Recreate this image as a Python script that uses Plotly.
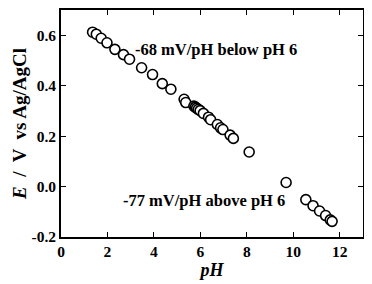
import plotly.graph_objects as go

ph = [1.36, 1.52, 1.73, 1.98, 2.32, 2.69, 2.95, 3.47, 3.94, 4.36, 4.73, 5.30, 5.37,
      5.72, 5.78, 5.84, 5.91, 5.99, 6.13, 6.35, 6.44, 6.73, 6.87, 6.97, 7.28, 7.42,
      8.10, 9.69, 10.54, 10.85, 11.13, 11.39, 11.59, 11.67]
E = [0.612, 0.604, 0.588, 0.570, 0.544, 0.523, 0.505, 0.471, 0.444, 0.408, 0.386, 0.346, 0.333,
     0.319, 0.315, 0.311, 0.306, 0.301, 0.290, 0.275, 0.265, 0.246, 0.233, 0.226, 0.204, 0.191,
     0.137, 0.016, -0.052, -0.076, -0.097, -0.115, -0.132, -0.138]
x_ticks = [0, 2, 4, 6, 8, 10, 12]
y_ticks = [-0.2, 0.0, 0.2, 0.4, 0.6]
y_tick_labels = ["-0.2", "0.0", "0.2", "0.4", "0.6"]

font = "Liberation Serif"

fig = go.Figure(go.Scatter(
    x=ph, y=E, mode="markers",
    marker=dict(symbol="circle", size=10, color="white", line=dict(color="black", width=1.6)),
))

axis_common = dict(
    showline=True, linecolor="black", linewidth=1.6, mirror="ticks",
    ticks="inside", ticklen=5, tickwidth=1, tickcolor="black",
    showgrid=False, zeroline=False,
    tickfont=dict(family=font, size=15.5, color="black"),
)

fig.update_xaxes(range=[0, 13], tickvals=x_ticks,
                 ticktext=[f"<b>{t}</b>" for t in x_ticks],
                 title=dict(text="<b><i>pH</i></b>", font=dict(family=font, size=18, color="black"), standoff=0),
                 **axis_common)
fig.update_yaxes(range=[-0.2, 0.7], tickvals=y_ticks,
                 ticktext=[f"<b>{t}</b>" for t in y_tick_labels],
                 title=dict(text="<b><i>E</i>  /  V  vs Ag/AgCl</b>", font=dict(family=font, size=19, color="black"), standoff=0),
                 **axis_common)

fig.add_annotation(x=6.68, y=0.545, text="<b>-68 mV/pH below pH 6</b>", showarrow=False,
                   font=dict(family=font, size=16.5, color="black"))
fig.add_annotation(x=6.15, y=-0.055, text="<b>-77 mV/pH above pH 6</b>", showarrow=False,
                   font=dict(family=font, size=16.5, color="black"))

fig.update_layout(
    width=372, height=284, margin=dict(l=53, r=17, t=0, b=55),
    paper_bgcolor="white", plot_bgcolor="white", showlegend=False,
)

fig.write_html("out.html")
